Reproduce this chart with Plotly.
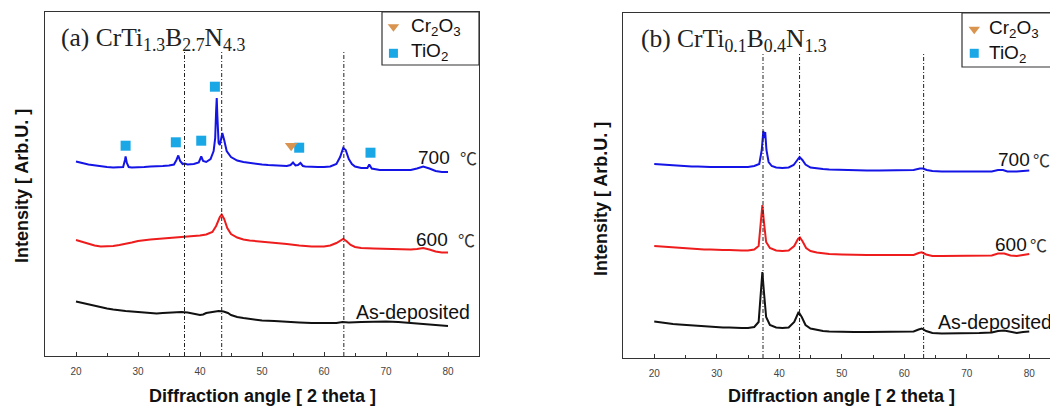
import plotly.graph_objects as go

W, H = 1050, 406

# ---------------- DATA ----------------
# (a) CrTi1.3B2.7N4.3  -- intensity in arbitrary units (stacked, offset included)
a700_x = [20, 20.5, 21, 22, 23, 24, 25, 26, 27, 27.6, 27.9, 28.0, 28.2, 28.5, 29, 30, 31, 32, 33, 34, 35,
          35.8, 36.2, 36.5, 36.8, 37.2, 37.5, 38, 39, 39.8, 40.2, 40.5, 41, 41.7, 42.2, 42.45, 42.6, 42.7,
          42.8, 42.9, 43.0, 43.2, 43.6, 43.9, 44.3, 45, 46, 47, 48, 49, 50, 51, 52, 53, 54, 54.6, 55.0,
          55.4, 55.8, 56.2, 56.6, 57, 58, 59, 60, 61, 62, 62.6, 63.1, 63.5, 64, 64.5, 65, 66, 67, 67.3,
          67.7, 68, 69, 70, 71, 72, 73, 74, 75, 76, 77, 78, 79, 80]
a700_y = [194.5, 194, 193, 191.5, 190.5, 189.5, 189, 188.5, 188.5, 189, 196, 199.5, 193, 189, 188.5, 188.5,
          189, 189.5, 189.5, 190, 190.5, 191.5, 196, 200.5, 195, 192, 192.5, 191.5, 192, 193.5, 199.5,
          195, 194, 197, 205, 218, 245, 258, 240, 222, 213, 211, 223, 216, 205, 199, 195.5, 194, 193, 192,
          191.5, 191, 190.5, 190, 190, 191, 193.5, 190.5, 191, 193, 190, 189.5, 189, 189, 189, 189.5, 192,
          199, 208, 206, 197, 192, 189.5, 188, 188, 191.5, 187.5, 187, 186, 186, 186, 185.5, 185.5, 186,
          187.5, 189.5, 187.5, 185, 184, 184]

a600_x = [20, 21, 22, 23, 24, 25, 26, 27, 28, 29, 30, 31, 32, 33, 34, 35, 36, 37, 38, 39, 40, 41, 42, 42.6,
          43.2, 43.5, 43.9, 44.4, 45, 46, 47, 48, 49, 50, 52, 54, 56, 58, 60, 61, 62, 62.7, 63.1, 63.6,
          64.3, 65, 66, 68, 70, 72, 74, 75, 76, 77, 78, 79, 80]
a600_y = [116, 114, 112, 110.5, 109.5, 109.5, 110, 111, 112, 113.5, 115, 116, 116.5, 117, 117.5, 117.5, 118,
          119, 119.5, 120, 120.5, 121.5, 124, 130, 139, 141.5, 137, 128, 122, 118.5, 116.5, 115.5, 115,
          114.5, 113.5, 112, 110.5, 109.5, 109.5, 110.5, 113, 116, 117, 115, 111, 109, 108, 107.5, 107,
          106.5, 106.5, 107, 108, 106.5, 104.5, 103.5, 103.5]

a_dep_x = [20, 21, 22, 23, 24, 25, 26, 27, 28, 29, 30, 31, 32, 33, 34, 35, 36, 37, 38, 39, 40, 40.5, 41, 42,
           43, 43.8, 44.5, 45, 46, 47, 48, 49, 50, 52, 54, 56, 58, 60, 62, 63, 64, 66, 68, 70, 72, 74, 76,
           78, 80]
a_dep_y = [54.5, 53, 51.5, 50, 49, 47.5, 46.5, 45.5, 45, 44.5, 44, 43.5, 43, 42.5, 43, 43.5, 44, 44, 43.5,
           42.5, 41, 41.5, 43, 44, 45, 44.5, 43, 41, 39, 38, 37, 36, 35.5, 35, 34, 33.5, 33, 33, 33, 34,
           33.5, 34, 34.5, 34.5, 34, 33, 32, 31, 30]

# peak markers in (a), 700 C pattern
tio2_x = [28.0, 36.1, 40.2, 42.4, 56.0, 67.5]
tio2_y = [210.3, 213.7, 215.3, 269.3, 208.3, 203.3]
cr2o3_x = [54.7]
cr2o3_y = [210.3]

# (b) CrTi0.1B0.4N1.3
b700_x = [20, 21, 22, 23, 24, 25, 26, 27, 28, 29, 30, 31, 32, 33, 34, 35, 36, 36.8, 37.2, 37.45, 37.6,
          37.75, 37.95, 38.3, 38.8, 39.5, 40.5, 41.5, 42.3, 42.9, 43.25, 43.7, 44.2, 45, 46, 47, 48, 50,
          52, 54, 56, 58, 60, 61.5, 62.5, 63, 63.6, 64.5, 66, 68, 70, 72, 74, 75, 75.8, 76.5, 78, 80]
b700_y = [194, 193.5, 193, 192.5, 192, 192, 191.5, 191.5, 191, 191, 191, 191, 190.5, 190.5, 190.5, 191, 192,
          194, 208, 227, 220, 226, 208, 196, 192, 190.5, 190, 190.5, 193, 198, 201, 198, 193.5, 190.5,
          189.5, 189, 188.5, 188, 187.5, 187.5, 187.5, 187.5, 187.5, 188, 189.5, 189.5, 188, 187, 186.5,
          186.5, 186.5, 186.5, 186.5, 188, 188, 186.5, 186.5, 187.5]

b600_x = [20, 21, 22, 23, 24, 25, 26, 27, 28, 29, 30, 31, 32, 33, 34, 35, 36, 36.7, 37.05, 37.3, 37.55,
          37.9, 38.5, 39.5, 40.5, 41.5, 42.4, 43.0, 43.3, 43.7, 44.3, 45, 46, 47, 48, 50, 52, 54, 56, 58,
          60, 61.5, 62.3, 62.8, 63.5, 64.5, 66, 68, 70, 72, 74, 75, 76, 77, 78, 79, 80]
b600_y = [112, 111.5, 111, 110.5, 110, 109.5, 109, 109, 108.5, 108.5, 108, 108, 108, 107.5, 107.5, 107.5,
          108.5, 112, 133, 153, 136, 116, 110, 107.5, 107, 107.5, 112, 119, 120.5, 117, 110, 107, 105.5,
          104.5, 104, 103.5, 103, 103, 103, 103, 102.5, 103, 105, 105.7, 103.5, 102, 102, 102, 102, 102,
          102.5, 104.5, 104.5, 102.5, 102, 103, 104]

b_dep_x = [20, 21, 22, 23, 24, 25, 26, 27, 28, 29, 30, 31, 32, 33, 34, 35, 36, 36.7, 37.05, 37.3, 37.55,
           37.9, 38.5, 39.5, 40.5, 41.5, 42.4, 42.9, 43.1, 43.6, 44.2, 45, 46, 47, 48, 50, 52, 54, 56, 58,
           60, 61.5, 62.3, 62.8, 63.5, 64.5, 66, 68, 70, 72, 74, 75, 76, 77, 78, 79, 80]
b_dep_y = [36.5, 35.5, 35, 34, 33.5, 33, 32.5, 32, 31.5, 31, 31, 30.5, 30.5, 30, 30, 30, 31, 36, 63, 86, 66,
           41, 33, 30.5, 30, 30.5, 36, 44, 46, 41, 33, 29.5, 28, 27, 26.5, 26, 26, 26, 26, 26, 26, 26.5,
           28.5, 29.5, 27, 25, 24.5, 24.5, 25, 25, 25.5, 27, 27.5, 26, 25, 26, 26.5]

ref_lines_a = [37.5, 43.5, 63.2]
ref_lines_b = [37.4, 43.25, 63.1]
ref_line_top = 304

x_ticks = [20, 30, 40, 50, 60, 70, 80]
x_minor = [25, 35, 45, 55, 65, 75]

titles = ["(a) CrTi<sub>1.3</sub>B<sub>2.7</sub>N<sub>4.3</sub>",
          "(b) CrTi<sub>0.1</sub>B<sub>0.4</sub>N<sub>1.3</sub>"]
temp_labels = ["700", "600"]
dep_label = "As-deposited"
legend_names = ["Cr<sub>2</sub>O<sub>3</sub>", "TiO<sub>2</sub>"]

# ---------------- STYLE ----------------
BLUE = "#1414e6"
RED = "#ee1c1c"
BLACK = "#111111"
SQ = "#1aa7e6"
TRI = "#d9944f"
AX = "#333333"
SANS = "Liberation Sans, Arial, sans-serif"


def P(px, py):
    return px / W, 1 - py / H


fig = go.Figure()

curves = [
    (a700_x, a700_y, BLUE, "x", "y"), (a600_x, a600_y, RED, "x", "y"), (a_dep_x, a_dep_y, BLACK, "x", "y"),
    (b700_x, b700_y, BLUE, "x2", "y2"), (b600_x, b600_y, RED, "x2", "y2"), (b_dep_x, b_dep_y, BLACK, "x2", "y2"),
]
for xs, ys, c, xa, ya in curves:
    fig.add_trace(go.Scatter(x=xs, y=ys, mode="lines", line=dict(color=c, width=2),
                             xaxis=xa, yaxis=ya, showlegend=False, hoverinfo="skip"))

fig.add_trace(go.Scatter(x=tio2_x, y=tio2_y, mode="markers", xaxis="x", yaxis="y", showlegend=False,
                         marker=dict(symbol="square", size=10, color=SQ)))
fig.add_trace(go.Scatter(x=cr2o3_x, y=cr2o3_y, mode="markers", xaxis="x", yaxis="y", showlegend=False,
                         marker=dict(symbol="triangle-down", size=11, color=TRI)))

# legend symbols (decoration) in each panel
for xa, ya, xs, ys_tri, ys_sq in [("x", "y", 71.2, 329.3, 302.7), ("x2", "y2", 71.2, 328.7, 304.7)]:
    fig.add_trace(go.Scatter(x=[xs], y=[ys_tri], mode="markers", xaxis=xa, yaxis=ya, showlegend=False,
                             marker=dict(symbol="triangle-down", size=10, color=TRI)))
    fig.add_trace(go.Scatter(x=[xs], y=[ys_sq], mode="markers", xaxis=xa, yaxis=ya, showlegend=False,
                             marker=dict(symbol="square", size=9, color=SQ)))

shapes = []
for xv in ref_lines_a:
    shapes.append(dict(type="line", xref="x", yref="y", x0=xv, x1=xv, y0=0, y1=ref_line_top,
                       line=dict(color="#222", width=1, dash="4px,2px,1px,2px")))
for xv in ref_lines_b:
    shapes.append(dict(type="line", xref="x2", yref="y2", x0=xv, x1=xv, y0=0, y1=ref_line_top,
                       line=dict(color="#222", width=1, dash="4px,2px,1px,2px")))
# legend boxes
x0, y0 = P(382, 65)
x1, y1 = P(479, 12)
shapes.append(dict(type="rect", xref="paper", yref="paper", x0=x0, x1=x1, y0=y0, y1=y1,
                   line=dict(color=AX, width=1.2)))
x0, y0 = P(962, 67)
x1, y1 = P(1070, 13)
shapes.append(dict(type="rect", xref="paper", yref="paper", x0=x0, x1=x1, y0=y0, y1=y1,
                   line=dict(color=AX, width=1.2)))

ann = []


def A(text, px, py, size, family=SANS, xanchor="left", color="#111", angle=0, bold=False):
    x, y = P(px, py)
    ann.append(dict(text=f"<b>{text}</b>" if bold else text, x=x, y=y, xref="paper", yref="paper",
                    xanchor=xanchor, yanchor="middle", showarrow=False, textangle=angle,
                    font=dict(size=size, family=family, color=color)))


# panel titles
A(titles[0], 59, 39, 25.5, family="Liberation Serif, Times New Roman, serif", color="#222")
A(titles[1], 639, 40, 25.5, family="Liberation Serif, Times New Roman, serif", color="#222")

# legends text
A(legend_names[0], 409, 27, 19)
A(legend_names[1], 409, 52, 19)
A(legend_names[0], 987, 29, 19)
A(legend_names[1], 987, 54, 19)

CJK = "Noto Sans CJK KR, Noto Sans CJK SC, sans-serif"
# temperature labels (a)
A(temp_labels[0], 416, 157, 19)
A("℃", 458, 157, 17, family=CJK, color="#333")
A(temp_labels[1], 414, 239, 19)
A("℃", 456, 239, 17, family=CJK, color="#333")
A(dep_label, 354, 312, 19.5)
# temperature labels (b)
A(temp_labels[0], 996, 159, 19)
A("℃", 1031, 159, 17, family=CJK, color="#333")
A(temp_labels[1], 993, 244, 19)
A("℃", 1028, 244, 17, family=CJK, color="#333")
A(dep_label, 936, 322, 19.5)

# axis titles
A("Diffraction angle [ 2 theta ]", 262, 396, 18, xanchor="center", bold=True)
A("Diffraction angle [ 2 theta ]", 841, 396, 18, xanchor="center", bold=True)
A("Intensity [ Arb.U. ]", 22, 186, 18, xanchor="center", angle=-90, bold=True)
A("Intensity [ Arb.U. ]", 601, 199, 18, xanchor="center", angle=-90, bold=True)

xcommon = dict(tickmode="array", tickvals=x_ticks, ticks="inside", ticklen=4, tickwidth=1, tickcolor=AX,
               showline=True, linecolor=AX, linewidth=1.2, mirror=True, showgrid=False, zeroline=False,
               tickfont=dict(size=10, family=SANS, color="#444"), ticklabelstandoff=6,
               minor=dict(tickvals=x_minor, ticks="inside", ticklen=2.5, tickcolor=AX, showgrid=False))
ycommon = dict(showticklabels=False, ticks="", showgrid=False, zeroline=False, showline=True,
               linecolor=AX, linewidth=1.2)

fig.update_layout(
    width=W, height=H, margin=dict(l=0, r=0, t=0, b=0),
    paper_bgcolor="white", plot_bgcolor="white", showlegend=False,
    xaxis=dict(domain=[45 / W, 479 / W], range=[15, 85], anchor="y", **xcommon),
    yaxis=dict(domain=[50 / H, 394 / H], range=[0, 344], anchor="x", mirror=True, **ycommon),
    xaxis2=dict(domain=[623 / W, 1.0], range=[15, 15 + (W - 623) / 6.25], anchor="y2", **xcommon),
    yaxis2=dict(domain=[48 / H, 393 / H], range=[0, 345], anchor="x2", mirror=False, **ycommon),
    shapes=shapes, annotations=ann,
)

fig.write_html("out.html")
